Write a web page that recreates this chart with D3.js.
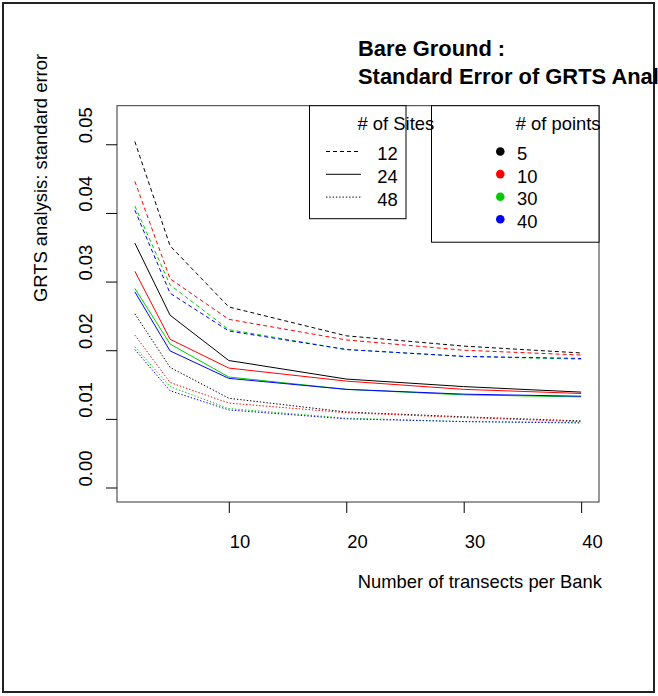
<!DOCTYPE html>
<html><head><meta charset="utf-8">
<script src="https://cdn.jsdelivr.net/npm/d3@7"></script>
<style>body{margin:0;background:#fff} text{font-family:"Liberation Sans",Arial,sans-serif;fill:#000}</style>
</head><body><svg id="c" width="658" height="696"></svg>
<script>
// ---- data ----
const transects = [2, 5, 10, 20, 30, 40];
const siteLevels = [12, 24, 48];
const pointLevels = [5, 10, 30, 40];
const yTicks = [0.00, 0.01, 0.02, 0.03, 0.04, 0.05];
const xTicks = [10, 20, 30, 40];
// standard error, sites x points
const se12_5  = [0.0504, 0.0352, 0.0263, 0.0221, 0.0206, 0.0196];
const se12_10 = [0.0446, 0.0304, 0.0245, 0.0215, 0.0200, 0.0193];
const se12_30 = [0.0410, 0.0295, 0.0230, 0.0201, 0.0191, 0.0187];
const se12_40 = [0.0404, 0.0283, 0.0228, 0.0201, 0.0191, 0.0188];
const se24_5  = [0.0356, 0.0251, 0.0185, 0.0158, 0.0147, 0.0139];
const se24_10 = [0.0315, 0.0216, 0.0174, 0.0155, 0.0143, 0.0137];
const se24_30 = [0.0290, 0.0209, 0.0161, 0.0143, 0.0135, 0.0132];
const se24_40 = [0.0285, 0.0199, 0.0159, 0.0143, 0.0136, 0.0133];
const se48_5  = [0.0253, 0.0175, 0.0130, 0.0110, 0.0103, 0.0097];
const se48_10 = [0.0222, 0.0153, 0.0123, 0.0109, 0.0102, 0.0096];
const se48_30 = [0.0205, 0.0147, 0.0115, 0.0101, 0.0096, 0.0095];
const se48_40 = [0.0201, 0.0141, 0.0113, 0.0100, 0.0096, 0.0094];
const seriesValues = [
  [se12_5, se12_10, se12_30, se12_40],
  [se24_5, se24_10, se24_30, se24_40],
  [se48_5, se48_10, se48_30, se48_40]
];
const titleLines = ["Bare Ground :", "Standard Error of GRTS Analysis"];
const xLabel = "Number of transects per Bank";
const yLabel = "GRTS analysis: standard error";

// ---- styles ----
const pointColors = ["#000000", "#FF0000", "#00CD00", "#0000FF"];
const siteDash = ["4,3", null, "1.4,1.9"];
const FS = "18.4px";

const svg = d3.select("#c");
svg.append("rect").attr("width", 658).attr("height", 696).attr("fill", "#fff");
// outer frame
svg.append("rect").attr("x", 3).attr("y", 3).attr("width", 651).attr("height", 689)
  .attr("fill", "none").attr("stroke", "#222").attr("stroke-width", 2);

const L = 117, R = 599, T = 105.7, B = 502;
const x = d3.scaleLinear().domain([0.48, 41.52]).range([L, R]);
const y = d3.scaleLinear().domain([-0.00211, 0.05562]).range([B, T]);

// lines
const line = d3.line().x((d, i) => x(transects[i])).y(d => y(d));
seriesValues.forEach((group, si) => {
  group.forEach((vals, pi) => {
    svg.append("path").attr("d", line(vals)).attr("fill", "none")
      .attr("stroke", pointColors[pi]).attr("stroke-width", 1)
      .attr("stroke-dasharray", siteDash[si]);
  });
});

// plot box
svg.append("rect").attr("x", L).attr("y", T).attr("width", R - L).attr("height", B - T)
  .attr("fill", "none").attr("stroke", "#333").attr("stroke-width", 1);

// x axis
const gx = svg.append("g").attr("transform", `translate(0,${B})`)
  .call(d3.axisBottom(x).tickValues(xTicks).tickSize(11).tickSizeOuter(0));
gx.attr("font-size", null).attr("font-family", null);
gx.select(".domain").remove();
gx.selectAll("line").attr("stroke", "#000");
gx.selectAll("text").attr("y", 46).attr("dy", null).attr("dx", 0.5)
  .attr("text-anchor", "start").style("font-size", FS).attr("fill", "#000");

// y axis
const gy = svg.append("g").attr("transform", `translate(${L},0)`)
  .call(d3.axisLeft(y).tickValues(yTicks).tickFormat(d3.format(".2f")).tickSize(11).tickSizeOuter(0));
gy.attr("font-size", null).attr("font-family", null);
gy.select(".domain").remove();
gy.selectAll("line").attr("stroke", "#000");
gy.selectAll(".tick text").each(function () {
  d3.select(this).attr("x", null).attr("dy", null).attr("text-anchor", "middle")
    .attr("transform", "translate(-25.5,-19.5) rotate(-90)")
    .style("font-size", FS).attr("fill", "#000");
});

// axis titles
svg.append("text").attr("x", 357.7).attr("y", 588).style("font-size", FS).text(xLabel);
svg.append("text").attr("transform", "translate(47,302) rotate(-90)").style("font-size", FS).text(yLabel);

// title
titleLines.forEach((t, i) => {
  svg.append("text").attr("x", 358).attr("y", 56 + i * 28)
    .style("font-size", "21.9px").style("font-weight", "bold").text(t);
});

// legend boxes
const lg = svg.append("g");
lg.append("rect").attr("x", 309.5).attr("y", T).attr("width", 96.5).attr("height", 113)
  .attr("fill", "#fff").attr("stroke", "#000");
lg.append("rect").attr("x", 431.5).attr("y", T).attr("width", R - 431.5).attr("height", 136.5)
  .attr("fill", "#fff").attr("stroke", "#000");

// legend: sites
lg.append("text").attr("x", 357.5).attr("y", 130).style("font-size", FS).text("# of Sites");
siteLevels.forEach((s, i) => {
  const yy = 151.5 + i * 22.8;
  lg.append("line").attr("x1", 326).attr("x2", 361).attr("y1", yy).attr("y2", yy)
    .attr("stroke", "#000").attr("stroke-dasharray", siteDash[i]);
  lg.append("text").attr("x", 377.3).attr("y", yy + 8.7).style("font-size", FS).text(s);
});
// legend: points
lg.append("text").attr("x", 515.7).attr("y", 130).style("font-size", FS).text("# of points");
pointLevels.forEach((p, i) => {
  const yy = 151.5 + i * 22.6;
  lg.append("circle").attr("cx", 500.3).attr("cy", yy).attr("r", 4.3).attr("fill", pointColors[i]);
  lg.append("text").attr("x", 517).attr("y", yy + 8.7).style("font-size", FS).text(p);
});
</script></body></html>
